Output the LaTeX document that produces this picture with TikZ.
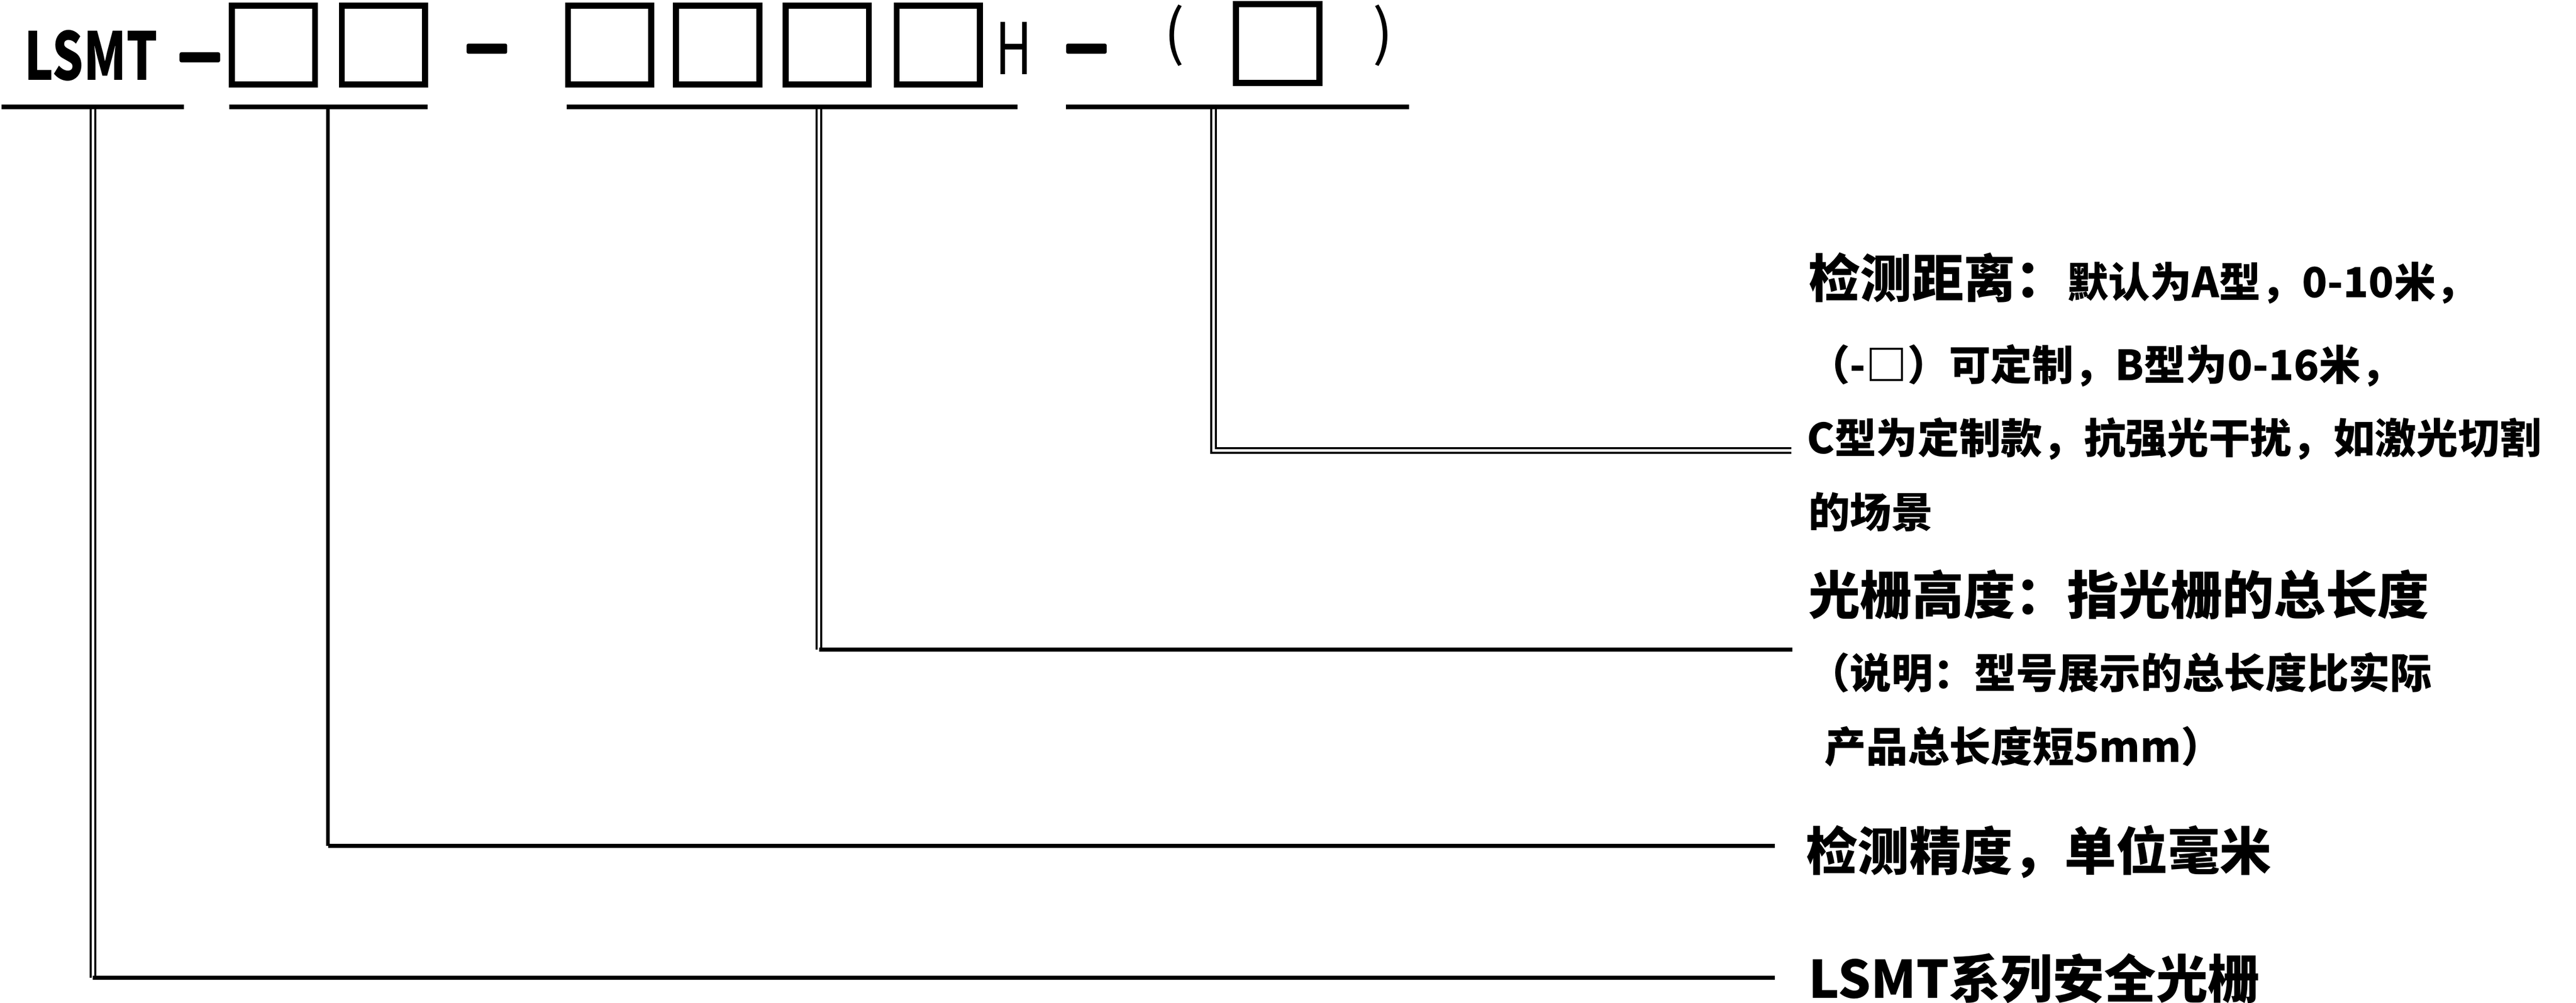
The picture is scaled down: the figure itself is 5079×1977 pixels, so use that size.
\documentclass[tikz,border=0pt]{standalone}
\usepackage{fontspec}
\setmainfont{Noto Sans CJK SC}
\newcommand{\headsize}{\fontsize{29}{35}\selectfont\bfseries}
\newcommand{\notesize}{\fontsize{23.3}{28}\selectfont\bfseries}
\begin{document}
\begin{tikzpicture}[x=0.01cm,y=-0.01cm,
digit/.style={draw,line width=3.4pt,minimum width=1.64cm,minimum height=1.55cm,inner sep=0pt},
bar/.style={fill,rounded corners=1pt,minimum width=0.8cm,minimum height=0.2cm,inner sep=0pt},
rule/.style={line width=2.5pt},
twin/.style={double,double distance=1.4pt,line width=1.15pt},
head/.style={anchor=base west,inner sep=0pt,font=\headsize},
note/.style={anchor=base west,inner sep=0pt,font=\notesize}]
\useasboundingbox (0,0) rectangle (5079,1977);
\node[anchor=base west,inner sep=0pt,font=\fontsize{37}{42}\selectfont\bfseries] (model) at (48,158) {\scalebox{0.74}[1]{LSMT}};
\node[bar] (dashA) at (394,113) {};
\node[digit] (b1) at (539,89) {};
\node[digit] (b2) at (756,89) {};
\node[bar] (dashB) at (960,96) {};
\node[digit] (b3) at (1202,89) {};
\node[digit] (b4) at (1415,89) {};
\node[digit] (b5) at (1631,89) {};
\node[digit] (b6) at (1850,89) {};
\node[anchor=base west,inner sep=0pt,font=\fontsize{40}{45}\selectfont] (hh) at (1962,147) {\scalebox{0.7}[1]{H}};
\node[bar] (dashC) at (2142,96) {};
\node[inner sep=0pt,font=\fontsize{34}{40}\selectfont] (lp) at (2315,70) {(};
\node[digit] (b7) at (2519,86) {};
\node[inner sep=0pt,font=\fontsize{34}{40}\selectfont] (rp) at (2727,70) {)};
\draw[rule] (3,211) -- (363,211);
\draw[rule] (452,211) -- (843,211);
\draw[rule] (1117,211) -- (2006,211);
\draw[rule] (2102,211) -- (2778,211);
\node[head] (dist) at (3565,587) {检测距离：{\notesize 默认为A型，0-10米，}};
\node[note] (distB) at (3565,750) {（-□）可定制，B型为0-16米，};
\node[note] (distC) at (3562,894) {C型为定制款，抗强光干扰，如激光切割};
\node[note] (distD) at (3565,1041) {的场景};
\node[head] (height) at (3565,1211) {光栅高度：指光栅的总长度};
\node[note] (heightB) at (3565,1358) {（说明：型号展示的总长度比实际};
\node[note] (heightC) at (3597,1503) {产品总长度短5mm）};
\node[head] (res) at (3560,1716) {检测精度，单位毫米};
\node[head] (series) at (3565,1968) {LSMT系列安全光栅};
\coordinate (p1) at (183,215);
\coordinate (p2) at (647,211);
\coordinate (p3) at (1615,215);
\coordinate (p4) at (2393,215);
\coordinate (e1) at (3499,1928);
\coordinate (e2) at (3499,1668);
\coordinate (e3) at (3534,1281);
\coordinate (e4) at (3532,888);
\draw[twin] (p1) -- (p1 |- e1);
\draw[rule] (p1 |- e1) -- (e1);
\draw[rule,line width=2pt] (p2) -- (p2 |- e2);
\draw[rule] (p2 |- e2) -- (e2);
\draw[twin] (p3) -- (p3 |- e3);
\draw[rule] (p3 |- e3) -- (e3);
\draw[twin] (p4) |- (e4);
\end{tikzpicture}
\end{document}
